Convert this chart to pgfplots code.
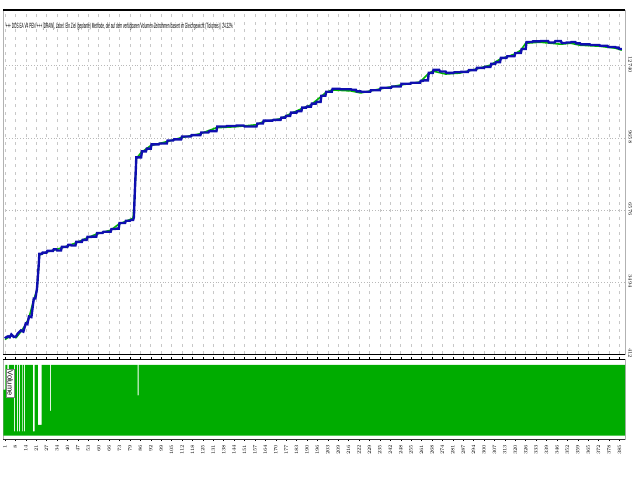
\documentclass[border=0pt]{standalone}
\usepackage{pgfplots}
\pgfplotsset{compat=1.18}
\usepackage{fontspec}
\setmainfont{Liberation Sans}
\usepackage{graphicx}
\definecolor{eqblue}{RGB}{15,15,175}
\definecolor{eqgreen}{RGB}{0,180,0}
\definecolor{volgreen}{RGB}{0,172,0}
\definecolor{gridgray}{RGB}{200,200,200}
\begin{document}
\begin{tikzpicture}[x=1pt,y=1pt]
\path (0,0) rectangle (640,480);
% ---------- main equity pane ----------
\begin{axis}[
  at={(2pt,125pt)}, anchor=south west,
  width=623pt, height=345pt, scale only axis,
  xmin=0, xmax=388, ymin=412, ymax=15130,
  xtick={1,7.5,...,388}, xticklabels={},
  ytick={412,3494,6576,9658,12740},
  scaled y ticks=false,
  yticklabel pos=right,
  yticklabel style={rotate=-90, anchor=south, font=\fontsize{5.5}{6}\selectfont, xshift=-1pt},
  yticklabel={\pgfmathprintnumber[fixed,precision=0,1000 sep={}]{\tick}},
  major tick length=0pt,
  xmajorgrids, ymajorgrids,
  x grid style={gridgray, line width=0.5pt, dash pattern=on 3pt off 4.5pt},
  y grid style={gray!55, line width=0.8pt, dotted},
  axis line style={gray!60, line width=0.6pt},
  clip=false,
]
\addplot[eqgreen, line width=1.6pt, yshift=-1.2pt] coordinates {
(1,1092)(3,1180)(5,1262)(8,1177)(11,1432)(14,1730)(16,2027)(19,2793)(21,3218)(22,4153)(22.5,4706)
(27,4833)(36,5003)(40,5090)(45,5216)(52,5428)(58,5598)(67,5768)(72,6023)(81,6278)(82,7256)(83,8829)
(86,9084)(92,9382)(102,9552)(111,9722)(123,9892)(133,10147)(145,10190)(158,10275)(162,10402)
(173,10530)(179,10742)(186,10955)(192,11125)(198,11465)(201,11635)(205,11762)(217,11720)(223,11635)
(235,11805)(248,11975)(260,12102)(265,12443)(268,12570)(276,12443)(285,12485)(295,12655)(304,12825)
(310,13080)(319,13293)(323,13463)(326,13760)(335,13803)(348,13718)(354,13760)(360,13675)(372,13633)
(382,13548)(386,13463)};
\addplot[eqblue, line width=2.4pt, line join=miter] coordinates {
(1,1092)(2,1150)(3,1180)(4,1140)(5,1262)(6.5,1150)(8,1177)(9,1300)(11,1432)(12.5,1380)(14,1730)(15,1700)(16,2027)(17.5,2000)(19,2793)(20,2800)(21,3218)(22,4153)(22.5,4706)
(24,4706)(24.5,4760)(27,4760)(27.5,4833)(31,4833)(31.5,4900)(33,4900)(33.5,4850)(36,4850)(36.5,5003)(40,5003)(40.5,5090)(42,5090)(42.5,5060)(45,5060)(45.5,5216)(49,5216)(49.5,5300)(52,5300)(52.5,5428)(55,5428)(55.5,5440)(58,5440)(58.5,5598)(62,5598)(62.5,5650)(67,5650)(67.5,5768)(70,5768)(70.5,5780)(72,5780)(72.5,6023)(76,6023)(76.5,6120)(79,6120)(79.5,6150)(81,6150)(81.5,6278)(82,7256)(83,8829)
(86,8829)(86.5,9084)(89,9084)(89.5,9200)(92,9200)(92.5,9382)(97,9382)(97.5,9420)(102,9420)(102.5,9552)(106,9552)(106.5,9600)(111,9600)(111.5,9722)(117,9722)(117.5,9780)(123,9780)(123.5,9892)(128,9892)(128.5,9950)(133,9950)(133.5,10147)(139,10147)(139.5,10170)(145,10170)(145.5,10190)(150,10190)(150.5,10150)(158,10150)(158.5,10275)(162,10275)(162.5,10402)
(168,10402)(168.5,10430)(173,10430)(173.5,10530)(176,10530)(176.5,10600)(179,10600)(179.5,10742)(183,10742)(183.5,10800)(186,10800)(186.5,10955)(189,10955)(189.5,11000)(192,11000)(192.5,11125)(195,11125)(195.5,11200)(198,11200)(198.5,11465)(201,11465)(201.5,11635)(205,11635)(205.5,11762)(210,11762)(210.5,11740)(217,11740)(217.5,11720)(220,11720)(220.5,11650)(223,11650)(223.5,11635)
(229,11635)(229.5,11700)(235,11700)(235.5,11805)(242,11805)(242.5,11860)(248,11860)(248.5,11975)(254,11975)(254.5,12020)(260,12020)(260.5,12102)(262,12102)(262.5,12120)(265,12120)(265.5,12443)(268,12443)(268.5,12570)(272,12570)(272.5,12500)(276,12500)(276.5,12443)(281,12443)(281.5,12470)(285,12470)(285.5,12485)(290,12485)(290.5,12560)(295,12560)(295.5,12655)(300,12655)(300.5,12700)(304,12700)(304.5,12825)
(307,12825)(307.5,12900)(310,12900)(310.5,13080)(314,13080)(314.5,13150)(319,13150)(319.5,13293)(323,13293)(323.5,13463)(326,13463)(326.5,13760)(330,13760)(330.5,13790)(335,13790)(335.5,13803)(340,13803)(340.5,13740)(344,13740)(344.5,13800)(348,13800)(348.5,13718)(351,13718)(351.5,13740)(354,13740)(354.5,13760)(357,13760)(357.5,13700)(360,13700)(360.5,13660)(366,13660)(366.5,13633)(372,13633)
(372.5,13600)(377,13600)(377.5,13548)(382,13548)(382.5,13520)(384,13520)(384.5,13463)(386,13463)};
\draw[black, line width=1.3pt] (rel axis cs:0,1) -- (rel axis cs:1,1);
\draw[black, line width=1.2pt] (rel axis cs:0,0) -- (rel axis cs:1,0);
\end{axis}
% ---------- volume pane ----------
\begin{axis}[
  at={(2pt,40pt)}, anchor=south west,
  width=623pt, height=80pt, scale only axis,
  xmin=0, xmax=388, ymin=-0.05, ymax=1.08,
  xtick={1,7.5,...,388},
  xticklabel={\pgfmathprintnumber[fixed,precision=0,1000 sep={}]{\tick}},
  xticklabel style={rotate=90, anchor=east, font=\fontsize{5.5}{6}\selectfont},
  ytick=\empty,
  tick align=outside, major tick length=2pt,
  tick style={black, line width=0.4pt},
  axis line style={gray!60, line width=0.6pt},
  clip=false,
]
\addplot[ybar interval, fill=volgreen, draw=none] coordinates {
(0,0.65)(1.2,1)(2.6,0.65)(3.4,1)(6.6,0.06)(7.2,1)(8.4,0.06)(9.0,1)(9.7,0.06)(10.3,1)
(11.5,0.06)(12.1,1)(12.8,0.06)(13.4,1)(18.4,0.06)(19.6,1)(21.5,0.15)(23.9,1)(29.0,0.35)(29.6,1)
(83.8,0.57)(84.4,1)(388,1)};
\draw[black, line width=1.2pt] (rel axis cs:0,1) -- (rel axis cs:1,1);
\draw[black!80, line width=1pt] (rel axis cs:0,0) -- (rel axis cs:1,0);
\node[draw=gray, fill=white, inner sep=1.5pt, rotate=-90, anchor=south west, font=\fontsize{7.5}{8}\selectfont]
  at (rel axis cs:0.004,0.88) {Volume};
\end{axis}
% ---------- title ----------
\node[anchor=west, inner sep=0pt] at (4,453)
  {\resizebox{228pt}{5.5pt}{+++ DOS EA V4 PEN +++ [DRAW], Label: Ein Ziel (geplante) Methode, die auf dem verfügbaren Volumen-Zeitrahmen basiert im Gleichgewicht (Tickpreis) | 24.32\%}};
\end{tikzpicture}
\end{document}
